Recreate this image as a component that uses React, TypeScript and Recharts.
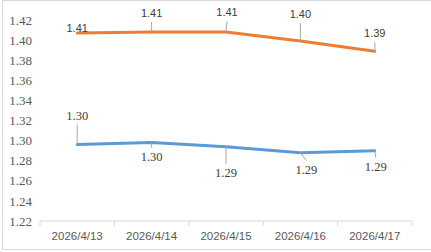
import React from 'react';
import { LineChart, Line, XAxis, YAxis, LabelList } from 'recharts';

// Daily dates shown on the category axis
const DATES = ['2026/4/13', '2026/4/14', '2026/4/15', '2026/4/16', '2026/4/17'];
// Upper (orange) series
const UPPER = [1.407, 1.408, 1.408, 1.399, 1.389];
// Lower (blue) series
const LOWER = [1.296, 1.298, 1.294, 1.288, 1.29];
// Value axis ticks
const Y_TICKS = [1.22, 1.24, 1.26, 1.28, 1.3, 1.32, 1.34, 1.36, 1.38, 1.4, 1.42];

// Label placement (label centre relative to its point)
const UPPER_LABEL_OFFSETS = [[0, -5], [0, -19], [1, -20], [0, -27], [0, -18]];
const LOWER_LABEL_OFFSETS = [[0, -29], [0, 14], [0, 26], [6, 17], [1, 16]];

const ORANGE = '#ED7D31';
const BLUE = '#5B9BD5';
const AXIS_GREY = '#d9d9d9';
const TEXT = '#404040';
const SANS = '"Liberation Sans", Arial, sans-serif';
const SERIF = '"Liberation Serif", "Times New Roman", serif';

const TICK_SIZE = 5;
const TICK_MARGIN = 6;

const data = DATES.map((date, i) => ({
  x: i + 0.5,
  date,
  upper: UPPER[i],
  lower: LOWER[i],
}));

// Boundaries between categories carry a tick mark, midpoints carry the date
const X_TICKS: number[] = [];
for (let i = 0; i <= DATES.length * 2; i++) X_TICKS.push(i / 2);

function XTick(props: any) {
  const { x, y, payload } = props;
  const v = payload.value as number;
  if (Number.isInteger(v)) {
    return (
      <line
        x1={x}
        x2={x}
        y1={y - TICK_MARGIN - TICK_SIZE}
        y2={y - TICK_MARGIN}
        stroke={AXIS_GREY}
        strokeWidth={1}
      />
    );
  }
  const label = DATES[Math.floor(v)];
  const size = 11.5;
  return (
    <text
      x={x}
      y={y + size * 0.72}
      textAnchor="middle"
      fontFamily={SANS}
      fontSize={size}
      fill="#595959"
    >
      {label}
    </text>
  );
}

function makeLabel(offsets: number[][], family: string, size: number) {
  return (props: any) => {
    const { x, y, value, index } = props;
    const [dx, dy] = offsets[index];
    const cx = x + dx;
    const cy = y + dy;
    const leader = Math.abs(dy) > 10;
    const endY = cy - Math.sign(dy) * 9;
    return (
      <g>
        {leader && (
          <line x1={x} y1={y} x2={cx} y2={endY} stroke="#a6a6a6" strokeWidth={1} />
        )}
        <text
          x={cx}
          y={cy + size * 0.36}
          textAnchor="middle"
          fontFamily={family}
          fontSize={size}
          fill={TEXT}
        >
          {Number(value).toFixed(2)}
        </text>
      </g>
    );
  };
}

const upperLabel = makeLabel(UPPER_LABEL_OFFSETS, SANS, 11);
const lowerLabel = makeLabel(LOWER_LABEL_OFFSETS, SERIF, 12.5);

export default function App() {
  return (
    <div
      style={{
        position: 'absolute',
        left: 0,
        top: 0,
        width: 431,
        height: 252,
        background: '#fff',
        overflow: 'hidden',
      }}
    >
      <div
        style={{
          position: 'absolute',
          left: 2,
          top: 0,
          width: 429,
          height: 250,
          borderTop: `1px solid ${AXIS_GREY}`,
          borderLeft: `1px solid ${AXIS_GREY}`,
          borderBottom: `1px solid ${AXIS_GREY}`,
          boxSizing: 'border-box',
        }}
      />
      <div style={{ position: 'absolute', left: 0, top: 0 }}>
        <LineChart
          width={431}
          height={252}
          data={data}
          margin={{ top: 20, right: 19, bottom: 0, left: 0 }}
        >
          <XAxis
            dataKey="x"
            type="number"
            domain={[0, DATES.length]}
            ticks={X_TICKS}
            interval={0}
            allowDecimals
            height={31}
            tickLine={false}
            tickSize={TICK_SIZE}
            tickMargin={TICK_MARGIN}
            axisLine={{ stroke: AXIS_GREY, strokeWidth: 1 }}
            tick={<XTick />}
          />
          <YAxis
            type="number"
            domain={[1.22, 1.42]}
            ticks={Y_TICKS}
            interval={0}
            width={40}
            axisLine={false}
            tickLine={false}
            tickSize={6}
            tickMargin={2}
            tickFormatter={(v: number) => v.toFixed(2)}
            tick={{ fontFamily: SERIF, fontSize: 13, fill: '#595959' }}
          />
          <Line
            dataKey="upper"
            stroke={ORANGE}
            strokeWidth={3}
            dot={false}
            activeDot={false}
            isAnimationActive={false}
            strokeLinecap="round"
          >
            <LabelList dataKey="upper" content={upperLabel} />
          </Line>
          <Line
            dataKey="lower"
            stroke={BLUE}
            strokeWidth={3}
            dot={false}
            activeDot={false}
            isAnimationActive={false}
            strokeLinecap="round"
          >
            <LabelList dataKey="lower" content={lowerLabel} />
          </Line>
        </LineChart>
      </div>
    </div>
  );
}
